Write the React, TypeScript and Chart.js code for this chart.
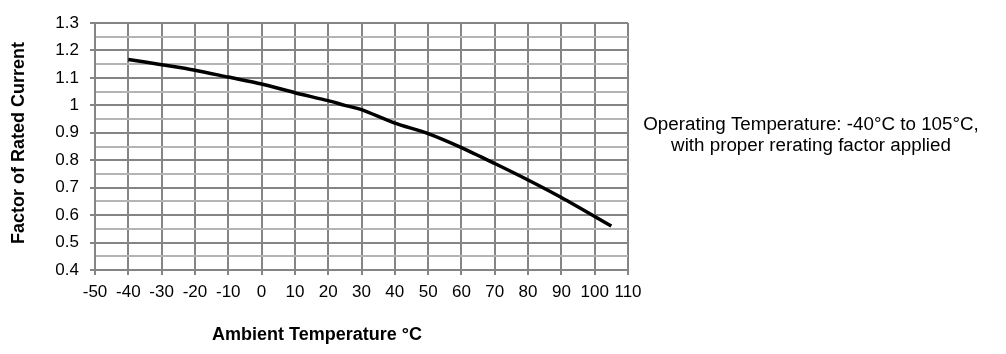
import React, { useEffect, useRef } from "react";
import { Chart, registerables } from "chart.js";

Chart.register(...registerables);

const temps = [-40, -30, -20, -10, 0, 10, 20, 25, 30, 40, 50, 60, 70, 80, 90, 105];
const factors = [1.167, 1.148, 1.128, 1.103, 1.078, 1.046, 1.017, 1.0, 0.984, 0.935, 0.897, 0.846, 0.788, 0.728, 0.664, 0.56];
const xTitle = "Ambient Temperature °C";
const yTitle = "Factor of Rated Current";
const noteLines = ["Operating Temperature: -40°C to 105°C,", "with proper rerating factor applied"];

const FONT = "'Liberation Sans', Arial, sans-serif";

const isMajor = (v: number) => Math.round(v * 100) % 10 === 0;

export default function App() {
  const ref = useRef<HTMLCanvasElement | null>(null);
  useEffect(() => {
    document.body.style.margin = "0";
    const ctx = ref.current!;
    const textPlugin = {
      id: "texts",
      afterDraw(chart: any) {
        const c = chart.ctx;
        c.save();
        c.fillStyle = "#000";
        c.textAlign = "center";
        c.textBaseline = "middle";
        c.font = `bold 18px ${FONT}`;
        c.fillText(xTitle, 317, 335);
        c.save();
        c.translate(19, 143);
        c.rotate(-Math.PI / 2);
        c.fillText(yTitle, 0, 0);
        c.restore();
        c.font = `18.8px ${FONT}`;
        c.fillText(noteLines[0], 811, 125);
        c.fillText(noteLines[1], 811, 146);
        c.restore();
      },
    };
    const chart = new Chart(ctx, {
      type: "line",
      data: {
        datasets: [
          {
            data: temps.map((t, i) => ({ x: t, y: factors[i] })),
            borderColor: "#000",
            borderWidth: 3.5,
            pointRadius: 0,
            tension: 0.25,
            fill: false,
          },
        ],
      },
      options: {
        animation: false,
        responsive: false,
        maintainAspectRatio: false,
        layout: { padding: { left: 55, right: 378, top: 23, bottom: 54 } },
        plugins: { legend: { display: false }, tooltip: { enabled: false } },
        scales: {
          x: {
            type: "linear",
            min: -50,
            max: 110,
            afterFit: (s: any) => { s.height = 30; },
            ticks: { stepSize: 10, color: "#000", font: { family: FONT, size: 17 }, padding: 7, maxRotation: 0, autoSkip: false },
            grid: { color: "#858585", lineWidth: 2, tickLength: 5, tickColor: "#858585" },
            border: { color: "#858585", width: 2 },
          },
          y: {
            type: "linear",
            min: 0.4,
            max: 1.3,
            afterFit: (s: any) => { s.width = 40; },
            ticks: {
              stepSize: 0.05,
              autoSkip: false,
              color: "#000",
              padding: 11,
              font: { family: FONT, size: 17 },
              callback: (v: any) => (isMajor(Number(v)) ? String(Number(Number(v).toFixed(2))) : ""),
            },
            grid: {
              color: (c: any) => (c.tick && isMajor(c.tick.value) ? "#858585" : "#b4b4b4"),
              tickColor: (c: any) => (c.tick && isMajor(c.tick.value) ? "#858585" : "rgba(0,0,0,0)"),
              lineWidth: 2,
              tickLength: 5,
            },
            border: { color: "#858585", width: 2 },
          },
        },
      },
      plugins: [textPlugin],
    } as any);
    return () => chart.destroy();
  }, []);
  return <canvas ref={ref} width={1006} height={354} style={{ display: "block" }} />;
}
